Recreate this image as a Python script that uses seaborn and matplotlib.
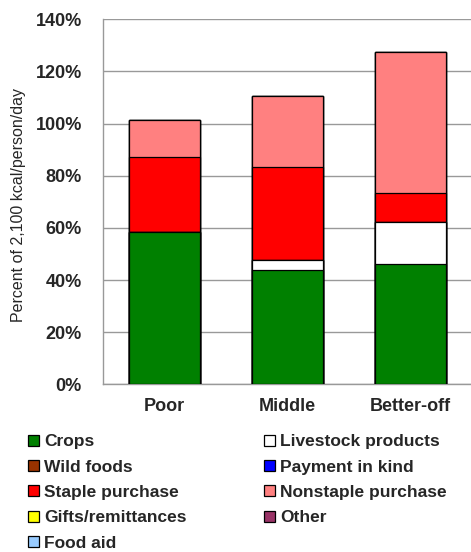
import matplotlib
matplotlib.use("Agg")
import matplotlib.pyplot as plt
import seaborn as sns
import pandas as pd
import numpy as np
from matplotlib.patches import Patch
from matplotlib.ticker import FuncFormatter

groups = ["Poor", "Middle", "Better-off"]
sources = ["Crops", "Livestock products", "Wild foods", "Payment in kind",
           "Staple purchase", "Nonstaple purchase", "Gifts/remittances",
           "Other", "Food aid"]
crops = [58.5, 44.0, 46.0]
livestock = [0.0, 3.6, 16.3]
wild_foods = [0.0, 0.0, 0.0]
payment_in_kind = [0.0, 0.0, 0.0]
staple_purchase = [28.6, 35.8, 11.1]
nonstaple_purchase = [14.1, 27.0, 54.0]
gifts = [0.0, 0.0, 0.0]
other = [0.0, 0.0, 0.0]
food_aid = [0.0, 0.0, 0.0]
colors = ["#008000", "#FFFFFF", "#993300", "#0000FF", "#FF0000",
          "#FF8080", "#FFFF00", "#993366", "#99CCFF"]

values = [crops, livestock, wild_foods, payment_in_kind, staple_purchase,
          nonstaple_purchase, gifts, other, food_aid]

sns.set_theme(style="white")
plt.rcParams["font.family"] = ["Liberation Sans", "DejaVu Sans"]

fig = plt.figure(figsize=(4.71, 5.52), dpi=100)
ax = fig.add_axes([0.218, 0.3038, 0.785, 0.6612])

cum = np.cumsum(np.array(values), axis=0)
for i in range(len(sources) - 1, -1, -1):
    df = pd.DataFrame({"group": groups, "value": cum[i]})
    sns.barplot(data=df, x="group", y="value", color=colors[i], width=0.573,
                edgecolor="black", linewidth=0.9, saturation=1, ax=ax, zorder=3)

ax.set_ylim(0, 140)
ax.set_xlim(-0.5, 2.5)
ax.set_yticks(range(0, 141, 20))
ax.yaxis.set_major_formatter(FuncFormatter(lambda v, p: f"{int(v)}%"))
ax.grid(axis="y", color="#999999", linewidth=1.0, zorder=0)
ax.set_axisbelow(True)
for s in ["top", "right"]:
    ax.spines[s].set_visible(False)
for s in ["left", "bottom"]:
    ax.spines[s].set_color("#999999")
    ax.spines[s].set_linewidth(1.0)
ax.tick_params(axis="both", length=0)
ax.tick_params(axis="y", pad=15)
ax.tick_params(axis="x", pad=10)
for lab in ax.get_yticklabels():
    lab.set_fontweight("bold")
    lab.set_fontsize(13)
for lab in ax.get_xticklabels():
    lab.set_fontweight("bold")
    lab.set_fontsize(13)
ax.set_xlabel("")
ax.set_ylabel("Percent of 2,100 kcal/person/day", fontsize=11.5)
ax.yaxis.set_label_coords(-0.208, 0.49)

order = [0, 2, 4, 6, 8, 1, 3, 5, 7]
handles = [Patch(facecolor=colors[i], edgecolor="black", linewidth=0.9,
                 label=sources[i]) for i in order]
fig.legend(handles=handles, ncol=2, loc="upper left",
           bbox_to_anchor=(0.045, 0.226), frameon=False,
           prop={"weight": "bold", "size": 12.5},
           handlelength=0.6, handleheight=0.6, handletextpad=0.3,
           labelspacing=0.6, columnspacing=4.5, borderaxespad=0)

fig.savefig("out.png", dpi=100)
